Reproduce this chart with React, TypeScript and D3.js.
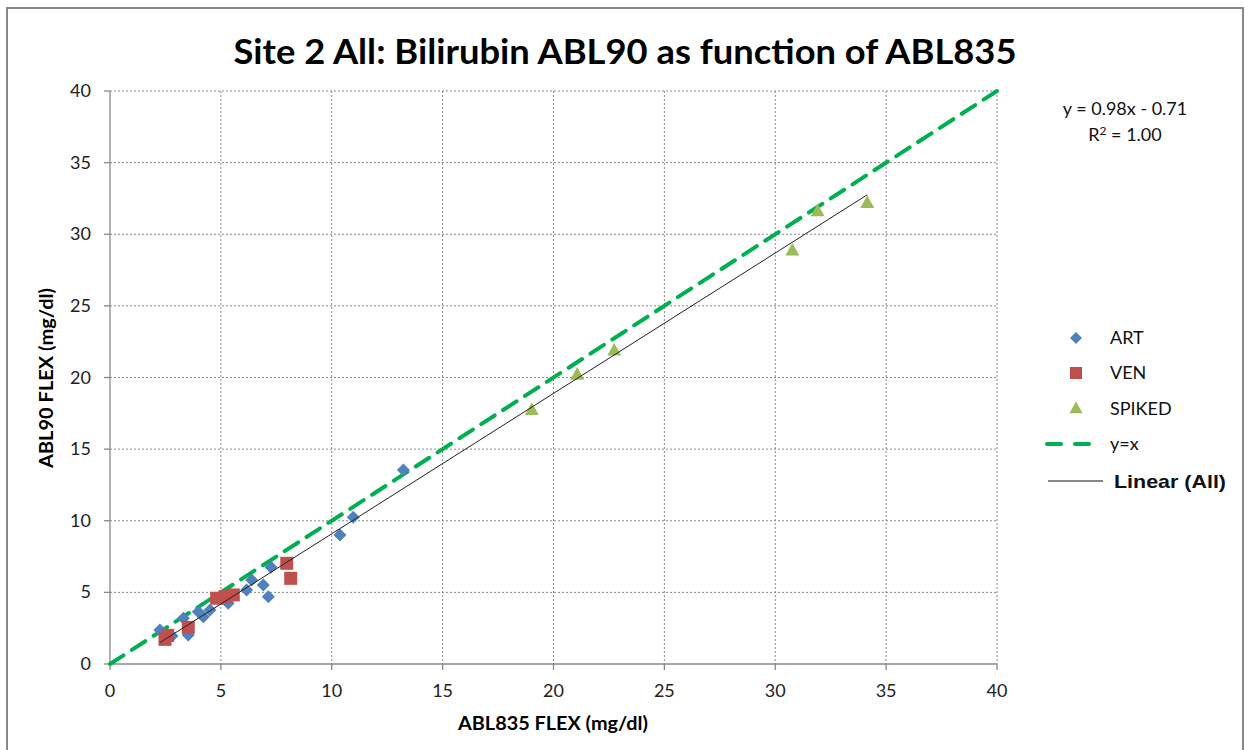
import React from "react";
import * as d3 from "d3";

const artX = [2.25, 2.8, 3.31, 3.53, 3.98, 4.21, 4.51, 5.33, 6.16, 6.39, 6.91, 7.14, 7.26, 10.37, 10.97, 13.23];
const artY = [2.37, 1.95, 3.19, 2.02, 3.65, 3.3, 3.77, 4.24, 5.17, 5.86, 5.51, 4.7, 6.75, 9.0, 10.24, 13.54];
const venX = [2.48, 2.6, 3.53, 4.81, 5.19, 5.56, 7.97, 8.15];
const venY = [1.72, 2.0, 2.56, 4.59, 4.7, 4.82, 7.03, 5.98];
const spkX = [19.02, 21.07, 22.74, 30.77, 31.91, 34.15];
const spkY = [17.78, 20.24, 21.92, 28.9, 31.64, 32.23];
const xTicks = [0, 5, 10, 15, 20, 25, 30, 35, 40];
const yTicks = [0, 5, 10, 15, 20, 25, 30, 35, 40];
const slope = 0.98;
const intercept = -0.71;
const legendItems = ["ART", "VEN", "SPIKED", "y=x", "Linear (All)"];

const FONT = "Lato, 'Open Sans', sans-serif";

export default function App() {
  const W = 1249, H = 750;
  const x = d3.scaleLinear().domain([0, 40]).range([110, 997]);
  const y = d3.scaleLinear().domain([0, 40]).range([664, 91]);

  const allX = [...artX, ...venX, ...spkX];
  const minX = d3.min(allX) as number;
  const maxX = d3.max(allX) as number;
  const line = d3.line<number>().x((v) => x(v)).y((v) => y(slope * v + intercept));

  const diamond = (cx: number, cy: number, r: number) =>
    `M${cx},${cy - r}L${cx + r},${cy}L${cx},${cy + r}L${cx - r},${cy}Z`;
  const tri = (cx: number, cy: number, r: number) =>
    `M${cx},${cy - r}L${cx + r},${cy + r * 0.8}L${cx - r},${cy + r * 0.8}Z`;

  const blue = "#4F81BD", red = "#C0504D", green = "#9BBB59", ygreen = "#00B050";
  const legendY = [338, 373, 409, 444, 481];

  return (
    <svg width={W} height={H} style={{ position: "absolute", left: 0, top: 0, background: "#fff" }}>
      <rect x={0} y={0} width={W} height={H} fill="#fff" />
      <rect x={7} y={8} width={1236} height={760} fill="#fff" stroke="#888" strokeWidth={2} />
      <text x={625} y={64} textAnchor="middle" fontFamily={FONT} fontWeight="bold" fontSize={34}
        textLength={783} lengthAdjust="spacingAndGlyphs" fill="#000">
        Site 2 All: Bilirubin ABL90 as function of ABL835
      </text>

      {/* grid */}
      {xTicks.filter((t) => t > 0).map((t) => (
        <line key={"gx" + t} x1={x(t)} x2={x(t)} y1={y(40)} y2={y(0)} stroke="#888" strokeWidth={1} strokeDasharray="2,2" />
      ))}
      {yTicks.filter((t) => t > 0).map((t) => (
        <line key={"gy" + t} x1={x(0)} x2={x(40)} y1={y(t)} y2={y(t)} stroke="#888" strokeWidth={1} strokeDasharray="2,2" />
      ))}
      {/* axes */}
      <line x1={x(0)} x2={x(0)} y1={y(40)} y2={y(0)} stroke="#888" strokeWidth={1.3} />
      <line x1={x(0)} x2={x(40)} y1={y(0)} y2={y(0)} stroke="#888" strokeWidth={1.3} />
      {yTicks.map((t) => (
        <g key={"ty" + t}>
          <line x1={x(0) - 6} x2={x(0)} y1={y(t)} y2={y(t)} stroke="#888" strokeWidth={1.3} />
          <text x={91} y={y(t) + 6} textAnchor="end" fontFamily={FONT} fontSize={18} fill="#222">{t}</text>
        </g>
      ))}
      {xTicks.map((t) => (
        <g key={"tx" + t}>
          <line x1={x(t)} x2={x(t)} y1={y(0)} y2={y(0) + 6} stroke="#888" strokeWidth={1.3} />
          <text x={x(t)} y={697} textAnchor="middle" fontFamily={FONT} fontSize={18} fill="#222">{t}</text>
        </g>
      ))}
      <text x={553} y={730} textAnchor="middle" fontFamily={FONT} fontWeight="bold" fontSize={18}
        textLength={190} lengthAdjust="spacingAndGlyphs">ABL835 FLEX (mg/dl)</text>
      <text transform="translate(53,378) rotate(-90)" textAnchor="middle" fontFamily={FONT} fontWeight="bold" fontSize={18}
        textLength={180} lengthAdjust="spacingAndGlyphs">ABL90 FLEX (mg/dl)</text>

      {/* y=x */}
      <line x1={x(0)} y1={y(0)} x2={x(40)} y2={y(40)} stroke={ygreen} strokeWidth={4} strokeDasharray="16,10" strokeLinecap="round" />

      {/* points */}
      {artX.map((v, i) => (
        <path key={"a" + i} d={diamond(x(v), y(artY[i]), 6.5)} fill={blue} />
      ))}
      {venX.map((v, i) => (
        <rect key={"v" + i} x={x(v) - 6.5} y={y(venY[i]) - 6.5} width={13} height={13} fill={red} />
      ))}
      {spkX.map((v, i) => (
        <path key={"s" + i} d={tri(x(v), y(spkY[i]), 7)} fill={green} />
      ))}

      {/* regression */}
      <path d={line([minX, maxX]) as string} stroke="#222" strokeWidth={1} fill="none" />

      {/* equation */}
      <text x={1125} y={115} textAnchor="middle" fontFamily={FONT} fontSize={18} fill="#111">y = 0.98x - 0.71</text>
      <text x={1125} y={141} textAnchor="middle" fontFamily={FONT} fontSize={18} fill="#111">
        R<tspan dy={-6} fontSize={12}>2</tspan><tspan dy={6}> = 1.00</tspan>
      </text>

      {/* legend */}
      <path d={diamond(1076, legendY[0], 6)} fill={blue} />
      <rect x={1070} y={legendY[1] - 6} width={12} height={12} fill={red} />
      <path d={tri(1076, legendY[2] - 1, 6.5)} fill={green} />
      <line x1={1047} x2={1091} y1={legendY[3]} y2={legendY[3]} stroke={ygreen} strokeWidth={4} strokeDasharray="14,14" strokeLinecap="round" />
      <line x1={1048} x2={1103} y1={legendY[4]} y2={legendY[4]} stroke="#111" strokeWidth={1} />
      {legendItems.map((t, i) =>
        i === 4 ? (
          <text key={t} x={1114} y={legendY[i] + 7} fontFamily="'Liberation Sans', Arial, sans-serif"
            fontWeight="bold" fontSize={19} textLength={112} lengthAdjust="spacingAndGlyphs" fill="#111">{t}</text>
        ) : (
          <text key={t} x={1110} y={legendY[i] + 6} fontFamily={FONT} fontSize={18} fill="#111">{t}</text>
        )
      )}
    </svg>
  );
}
